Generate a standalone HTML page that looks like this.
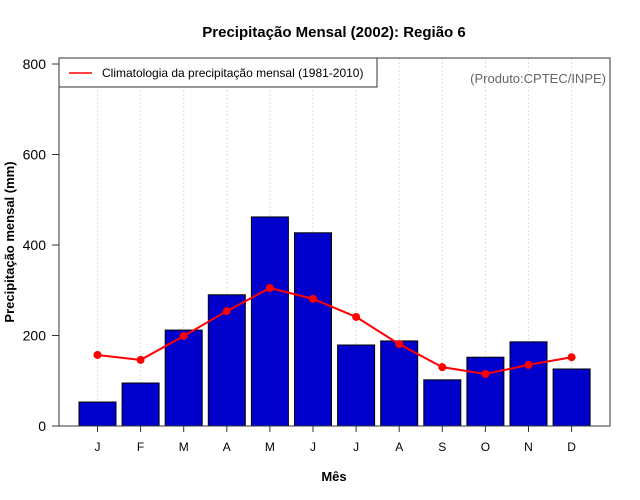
<!DOCTYPE html>
<html><head><meta charset="utf-8"><style>body{margin:0;background:#fff}svg{display:block;font-family:"Liberation Sans",sans-serif}</style></head>
<body>
<svg id="c" width="640" height="500">
<text x="334" y="37" text-anchor="middle" font-size="15" font-weight="bold">Precipitação Mensal (2002): Região 6</text>
<text x="334" y="481" text-anchor="middle" font-size="13" font-weight="bold">Mês</text>
<text transform="translate(14,242) rotate(-90)" text-anchor="middle" font-size="13" font-weight="bold">Precipitação mensal (mm)</text>
<g id="grid"></g><g id="bars"></g><g id="line"></g><g id="axes"></g>
<rect x="59" y="58" width="551" height="368" fill="none" stroke="#333"/>
<g>
<rect x="59" y="58" width="318" height="29" fill="#fff" stroke="#333"/>
<line x1="69" y1="73" x2="92" y2="73" stroke="red" stroke-width="1.5"/>
<text x="102" y="77" font-size="12">Climatologia da precipitação mensal (1981-2010)</text>
</g>
<text x="606" y="83" text-anchor="end" font-size="13" fill="#666">(Produto:CPTEC/INPE)</text>
</svg>
<script>
const months=["J","F","M","A","M","J","J","A","S","O","N","D"];
const precip=[53,95,212,290,462,427,179,188,102,152,186,126];
const clim=[157,146,199,254,305,281,241,181,130,115,135,152];
const yTicks=[0,200,400,600,800];
const NS="http://www.w3.org/2000/svg";
const xs=i=>97.5+i*43.1, ys=v=>426-v*0.4525;
function mk(t,a,p){const e=document.createElementNS(NS,t);for(const k in a)e.setAttribute(k,a[k]);p.appendChild(e);return e;}
const G=document.getElementById('grid'),B=document.getElementById('bars'),L=document.getElementById('line'),A=document.getElementById('axes');
months.forEach((m,i)=>{
 const g=mk('line',{x1:xs(i),x2:xs(i),y1:58,y2:426,stroke:'#ddd','stroke-dasharray':'2,2'},G);
 
 
 const b=mk('rect',{x:xs(i)-18.5,y:ys(precip[i]),width:37,height:426-ys(precip[i]),fill:'#0000cd',stroke:'#000'},B);
 
 
 mk('line',{x1:xs(i),x2:xs(i),y1:426,y2:432,stroke:'#333'},A);
 const t=mk('text',{x:xs(i),y:451,'text-anchor':'middle','font-size':12},A);t.textContent=m;
 
 
});
const pl=mk('polyline',{points:clim.map((v,i)=>xs(i)+','+ys(v)).join(' '),fill:'none',stroke:'red','stroke-width':2},L);


clim.forEach((v,i)=>{const c=mk('circle',{cx:xs(i),cy:ys(v),r:4,fill:'red'},L);
 
 });
yTicks.forEach(v=>{mk('line',{x1:52,x2:59,y1:ys(v),y2:ys(v),stroke:'#333'},A);
 const t=mk('text',{x:46,y:ys(v)+5,'text-anchor':'end','font-size':14},A);t.textContent=v;
 
 });
</script>
</body></html>
